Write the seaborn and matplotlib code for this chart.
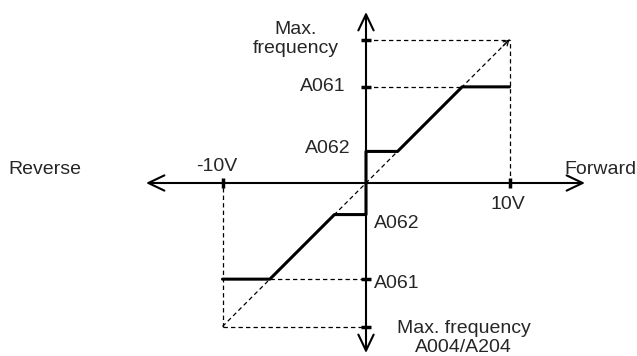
import pandas as pd
import matplotlib
matplotlib.use("Agg")
import matplotlib.pyplot as plt
import seaborn as sns

# analogue input (V) vs output frequency (scaled so max frequency = 10)
v_max = 10
f_max = 10
a061 = 6.7   # upper limit
a062 = 2.2   # lower limit (start frequency)

volts = [-10, -6.7, -2.2, 0, 0, 2.2, 6.7, 10]
freq = [-6.7, -6.7, -2.2, -2.2, 2.2, 2.2, 6.7, 6.7]

curve = pd.DataFrame({"volts": volts, "freq": freq})

sns.set_style("white")
plt.rcParams["font.family"] = ["Liberation Sans", "DejaVu Sans"]

# pixels per unit so both axes share one scale
S = 14.35
W, H = 637, 356
ox, oy = 366, 183

fig = plt.figure(figsize=(W / 100, H / 100), dpi=100)
ax = fig.add_axes([0, 0, 1, 1])
ax.set_xlim(-ox / S, (W - ox) / S)
ax.set_ylim(-(H - oy) / S, oy / S)
ax.axis("off")

dash = dict(color="black", lw=0.9, ls=(0, (3.5, 2.5)))

# dashed guide lines
ax.plot([-v_max, v_max], [-f_max, f_max], **dash)
ax.plot([0, v_max], [f_max, f_max], **dash)
ax.plot([v_max, v_max], [0, f_max], **dash)
ax.plot([0, a061], [a061, a061], **dash)
ax.plot([-v_max, 0], [-f_max, -f_max], **dash)
ax.plot([-v_max, -v_max], [-f_max, 0], **dash)
ax.plot([-a061, 0], [-a061, -a061], **dash)
# small head at the end of the diagonal
ax.annotate("", xy=(v_max, f_max), xytext=(v_max - 0.45, f_max - 0.45),
            arrowprops=dict(arrowstyle="->,head_length=0.35,head_width=0.2", lw=0.9,
                            color="black", mutation_scale=10, shrinkA=0, shrinkB=0))

# axes with open arrowheads
arrow = dict(arrowstyle="<->,head_length=1.15,head_width=0.55", lw=1.5,
             color="black", mutation_scale=10, shrinkA=0, shrinkB=0)
ax.annotate("", xy=((585 - ox) / S, 0), xytext=((146 - ox) / S, 0), arrowprops=arrow)
ax.annotate("", xy=(0, (oy - 12) / S), xytext=(0, (oy - 353) / S), arrowprops=arrow)

# tick marks
for y in [f_max, a061, -a061, -f_max]:
    ax.plot([-0.35, 0.35], [y, y], color="black", lw=2.5, solid_capstyle="butt")
for x in [v_max, -v_max]:
    ax.plot([x, x], [-0.35, 0.35], color="black", lw=2.5, solid_capstyle="butt")

# frequency curve
sns.lineplot(data=curve, x="volts", y="freq", sort=False, estimator=None,
             color="black", lw=2.2, ax=ax)
ax.axis("off")

fs = 14
ax.text(-4.9, 10.05, "Max.\nfrequency", ha="center", va="center", fontsize=fs, linespacing=1.15)
ax.text(-1.4, a061, "A061", ha="right", va="center", fontsize=fs)
ax.text(-1.1, a062 + 0.2, "A062", ha="right", va="center", fontsize=fs)
ax.text(0.55, -a062 - 0.6, "A062", ha="left", va="center", fontsize=fs)
ax.text(0.55, -a061 - 0.3, "A061", ha="left", va="center", fontsize=fs)
ax.text(6.8, -10.8, "Max. frequency\nA004/A204", ha="center", va="center",
        fontsize=fs, linespacing=1.1)
ax.text(-10.4, 1.15, "-10V", ha="center", va="center", fontsize=fs)
ax.text(9.9, -1.5, "10V", ha="center", va="center", fontsize=fs)
ax.text((8 - ox) / S, 0.95, "Reverse", ha="left", va="center", fontsize=fs)
ax.text((636 - ox) / S, 0.95, "Forward", ha="right", va="center", fontsize=fs)

fig.savefig("out.png", dpi=100)
